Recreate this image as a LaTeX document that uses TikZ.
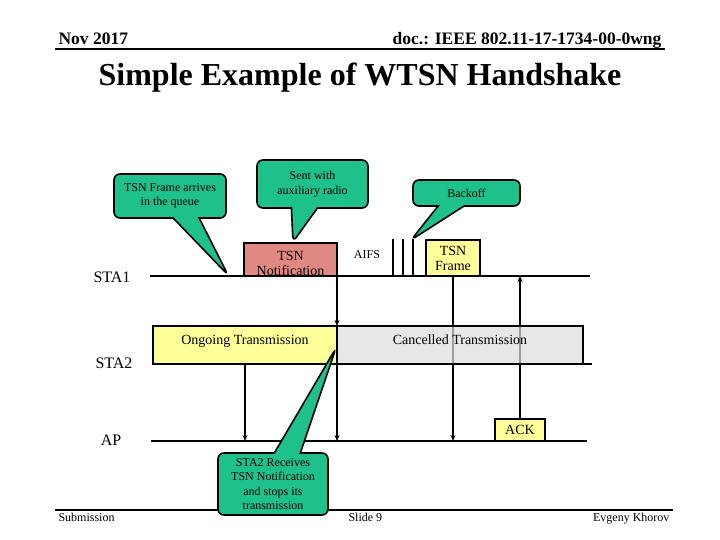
\documentclass[tikz,border=0pt]{standalone}
\usepackage{fontspec}
\setmainfont{Liberation Serif}
\usetikzlibrary{calc,shapes.callouts,arrows.meta}
\definecolor{bubblegreen}{RGB}{30,192,140}
\definecolor{notifred}{RGB}{224,136,130}
\definecolor{txyellow}{RGB}{255,255,153}
\definecolor{txgrey}{RGB}{221,221,221}
\newcommand{\headfont}{\bfseries\fontsize{17.5}{20}\selectfont}
\newcommand{\titlefont}{\bfseries\fontsize{32}{36}\selectfont}
\newcommand{\smallfont}{\fontsize{12}{14.5}\selectfont}
\newcommand{\boxfont}{\fontsize{14}{15}\selectfont}
\newcommand{\stafont}{\fontsize{16}{18}\selectfont}

\begin{document}
\begin{tikzpicture}[x=1pt,y=-1pt]
       \tikzstyle{bubble} = [rectangle callout, draw=black, line width=1.6pt, fill=bubblegreen, rounded corners=6pt, align=center, inner sep=1pt, callout pointer width=26pt, font=\smallfont];
       \tikzstyle{txbox} = [rectangle, draw=black, line width=2pt, inner sep=1pt, outer sep=0pt, align=center, font=\boxfont];
       \tikzstyle{tline} = [line width=2.4pt];
       \tikzstyle{arr} = [line width=2pt, -{Stealth[length=6pt,width=5pt]}];
       \useasboundingbox[fill=white] (0,0) rectangle (720,540);

       % header
       \node[anchor=base west, font=\headfont] (date) at (55,45) {Nov 2017};
       \node[anchor=base east, font=\headfont] (docid) at (665,45) {doc.: IEEE 802.11-17-1734-00-0wng};
       \draw[line width=2pt] (date.base west |- 0,49) -- (docid.base east |- 0,49);
       \node[anchor=base, font=\titlefont] (title) at (360,86) {Simple Example of WTSN Handshake};

       % stations
       \node[font=\stafont] (sta1lbl) at (112,277) {STA1};
       \node[font=\stafont] (sta2lbl) at (114,363) {STA2};
       \node[font=\stafont] (aplbl) at (111,440) {AP};
       \coordinate (sta1L) at (150,276);
       \coordinate (sta1R) at (590,276);
       \coordinate (sta2L) at (153,364);
       \coordinate (sta2R) at (592,364);
       \coordinate (apL) at (151,441);
       \coordinate (apR) at (587,441);

       \node[txbox, fill=notifred, minimum width=93pt, minimum height=33pt, text height=31pt, text depth=0pt] (notif) at (290.5,259.5) {TSN\\Notification};
       \node[txbox, fill=txyellow, minimum width=54pt, minimum height=36pt] (tsnframe) at (453,258) {TSN\\Frame};
       \node[txbox, fill=txyellow, minimum width=50pt, minimum height=22pt] (ack) at (520,430) {ACK};
       \node[font=\smallfont] (aifs) at (367,255) {AIFS};
       \foreach \x in {393,403,413}
         \draw[line width=1.5pt] (\x,239) -- (\x,276);

       \draw[tline] (sta1L) -- (sta1R);
       \draw[tline] (sta2L) -- (sta2R);
       \draw[tline] (apL) -- (apR);

       \draw[arr] (tsnframe.south) -- (tsnframe.south |- apL);
       \draw[arr] (ack.north) -- (ack.north |- sta1L);

       \node[txbox, fill=txyellow, minimum width=184pt, minimum height=38pt, text height=10pt, text depth=12pt] (ongoing) at (245,345) {Ongoing Transmission};
       \node[txbox, fill=txgrey, fill opacity=0.7, text opacity=1, minimum width=246pt, minimum height=38pt, text height=10pt, text depth=12pt] (cancelled) at (460,345) {Cancelled Transmission};

       \draw[arr] (notif.south east) -- (cancelled.north west);
       \draw[arr] (cancelled.south west) -- (cancelled.south west |- apL);
       \draw[arr] (ongoing.south) -- (ongoing.south |- apL);

       % footer
       \node[anchor=base west, font=\smallfont] (submission) at (55,521) {Submission};
       \node[anchor=base west, font=\smallfont] (slide) at (345,521) {Slide 9};
       \node[anchor=base east, font=\smallfont] (author) at (673,521) {Evgeny Khorov};
       \draw[line width=2pt] (submission.base west |- 0,510) -- (author.base east |- 0,510);

       % callouts
       \coordinate (tipA) at (228,275);
       \coordinate (tipB) at (293,242);
       \coordinate (tipC) at (411,240);
       \coordinate (tipD) at (336,348);
       \node[bubble, minimum width=112pt, minimum height=44pt, callout absolute pointer={(tipA)}] (arrives) at (170,196) {TSN Frame arrives\\in the queue};
       \node[bubble, minimum width=111pt, minimum height=48pt, callout absolute pointer={(tipB)}] (sent) at (312.5,184) {Sent with\\auxiliary radio};
       \node[bubble, minimum width=107pt, minimum height=26pt, callout absolute pointer={(tipC)}] (backoff) at (466.5,193) {Backoff};
       \node[bubble, minimum width=110pt, minimum height=62pt, callout absolute pointer={(tipD)}] (receives) at (273,484) {STA2 Receives\\TSN Notification\\and stops its\\transmission};
     \end{tikzpicture}
\end{document}
